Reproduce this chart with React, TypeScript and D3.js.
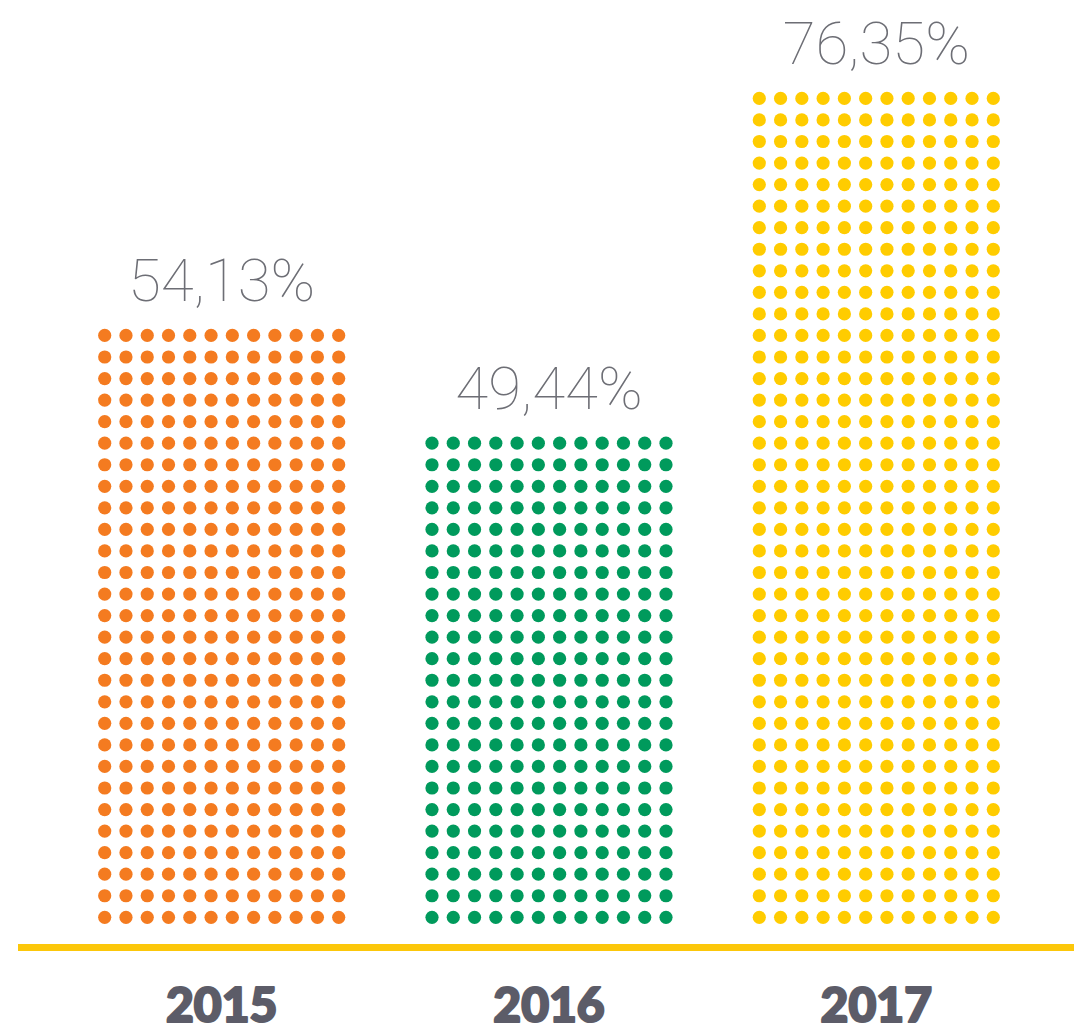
import React from "react";
import * as d3 from "d3";

const years = ["2015", "2016", "2017"];
const values = [54.13, 49.44, 76.35];
const valueLabels = ["54,13%", "49,44%", "76,35%"];
const dotRows = [28, 23, 39];
const dotCols = 12;
const colors = ["#f47b20", "#009a5c", "#ffcc00"];

const W = 1074;
const H = 1027;

export default function App() {
  const x = d3.scalePoint<string>().domain(years).range([221.7, 876.3]);
  const colOffset = d3.scaleLinear().domain([0, dotCols - 1]).range([-117, 117]);
  const rowY = d3.scaleLinear().domain([0, 1]).range([917.3, 917.3 - 21.55]);

  return (
    <svg
      width={W}
      height={H}
      viewBox={`0 0 ${W} ${H}`}
      style={{ position: "absolute", left: 0, top: 0, background: "#fff" }}
    >
      {years.map((yr, i) => {
        const cx = x(yr)!;
        const rows = d3.range(dotRows[i]);
        const cols = d3.range(dotCols);
        const topY = rowY(dotRows[i] - 1);
        return (
          <g key={yr}>
            {rows.map((r) =>
              cols.map((c) => (
                <circle
                  key={`${r}-${c}`}
                  cx={cx + colOffset(c)}
                  cy={rowY(r)}
                  r={6.6}
                  fill={colors[i]}
                />
              ))
            )}
            <text
              x={cx}
              y={topY - 34}
              textAnchor="middle"
              fontFamily="Roboto, 'Open Sans', sans-serif"
              fontWeight={100}
              fontSize={60}
              fill="#6d6e75"
              data-value={values[i]}
            >
              {valueLabels[i]}
            </text>
            <text
              x={cx}
              y={1022}
              textAnchor="middle"
              fontFamily="Lato, 'Open Sans', sans-serif"
              fontWeight={900}
              fontSize={48}
              fill="#5c5c68"
              stroke="#5c5c68"
              strokeWidth={2.2}
              strokeLinejoin="round"
            >
              {yr}
            </text>
          </g>
        );
      })}
      <rect x={18} y={944} width={W - 18} height={7} fill="#fcc70a" />
    </svg>
  );
}
